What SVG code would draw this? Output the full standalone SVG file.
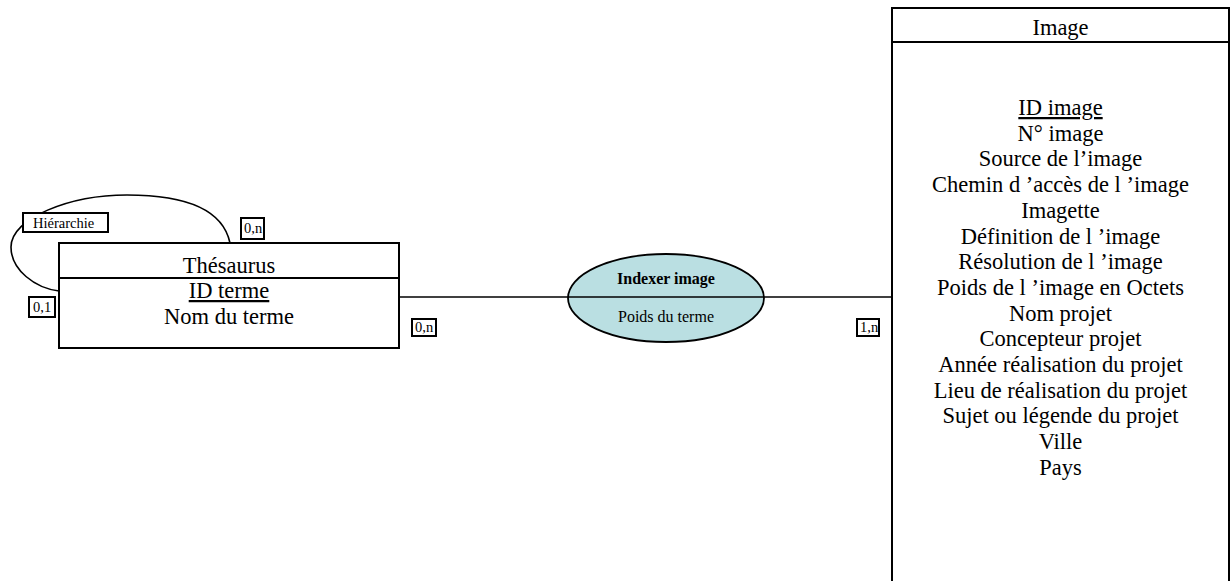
<svg xmlns="http://www.w3.org/2000/svg" width="1232" height="581" viewBox="0 0 1232 581">
<style>
.box{fill:#fff;stroke:#000;stroke-width:2}
.sep{stroke:#000;stroke-width:2}
.t{font-family:'Liberation Serif','Times New Roman',serif;font-size:22.5px;fill:#000;text-anchor:middle}
.u{text-decoration:underline}
.lbl{fill:#fff;stroke:#000;stroke-width:2}
.lt{font-family:'Liberation Serif','Times New Roman',serif;font-size:14.5px;fill:#000}
.conn{fill:none;stroke:#000;stroke-width:1.6}
.rel{fill:#badfe2;stroke:#000;stroke-width:1.8}
.rt{font-family:'Liberation Serif','Times New Roman',serif;font-size:16px;fill:#000;text-anchor:middle}
</style>
<rect width="1232" height="581" fill="#fff"/>
<g id="connectors">
<line class="conn" x1="399" y1="297" x2="892" y2="297"/>
<path class="conn" d="M230,243 C222,205 175,195 127,195 C70,195 11,218 11,247 C11,270 35,288 59,291"/>
</g>
<g id="thesaurus" font-family="Liberation Serif, serif">
<rect class="box" x="59" y="243" width="340" height="105"/>
<line class="sep" x1="59" y1="278" x2="399" y2="278"/>
<text class="t" x="229" y="273">Thésaurus</text>
<text class="t u" x="229" y="298">ID terme</text>
<text class="t" x="229" y="324">Nom du terme</text>
</g>
<g id="image" font-family="Liberation Serif, serif">
<rect class="box" x="892" y="8" width="337" height="600"/>
<line class="sep" x1="892" y1="42" x2="1229" y2="42"/>
<text class="t" x="1060.5" y="35">Image</text>
<text class="t u" x="1060.5" y="115">ID image</text>
<text class="t" x="1060.5" y="140.7">N° image</text>
<text class="t" x="1060.5" y="166.4">Source de l’image</text>
<text class="t" x="1060.5" y="192.1">Chemin d ’accès de l ’image</text>
<text class="t" x="1060.5" y="217.8">Imagette</text>
<text class="t" x="1060.5" y="243.5">Définition de l ’image</text>
<text class="t" x="1060.5" y="269.2">Résolution de l ’image</text>
<text class="t" x="1060.5" y="294.9">Poids de l ’image en Octets</text>
<text class="t" x="1060.5" y="320.6">Nom projet</text>
<text class="t" x="1060.5" y="346.3">Concepteur projet</text>
<text class="t" x="1060.5" y="372">Année réalisation du projet</text>
<text class="t" x="1060.5" y="397.7">Lieu de réalisation du projet</text>
<text class="t" x="1060.5" y="423.4">Sujet ou légende du projet</text>
<text class="t" x="1060.5" y="449.1">Ville</text>
<text class="t" x="1060.5" y="474.8">Pays</text>
</g>
<g id="indexer">
<ellipse class="rel" cx="666" cy="298" rx="98" ry="44"/>
<line class="conn" x1="568" y1="297" x2="764" y2="297"/>
<text class="rt" x="666" y="284" font-weight="bold">Indexer image</text>
<text class="rt" x="666" y="322">Poids du terme</text>
</g>
<g id="label-hierarchie">
<rect class="lbl" x="23" y="213" width="85" height="19"/>
<text class="lt" x="33" y="227.5">Hiérarchie</text>
</g>
<g id="label-0n-top">
<rect class="lbl" x="241" y="218" width="23" height="21"/>
<text class="lt" x="244" y="233">0,n</text>
</g>
<g id="label-01">
<rect class="lbl" x="29" y="297" width="26" height="20"/>
<text class="lt" x="33" y="312">0,1</text>
</g>
<g id="label-0n">
<rect class="lbl" x="412" y="319" width="24" height="17"/>
<text class="lt" x="415" y="332">0,n</text>
</g>
<g id="label-1n">
<rect class="lbl" x="857" y="319" width="22" height="17"/>
<text class="lt" x="860" y="332">1,n</text>
</g>
</svg>
